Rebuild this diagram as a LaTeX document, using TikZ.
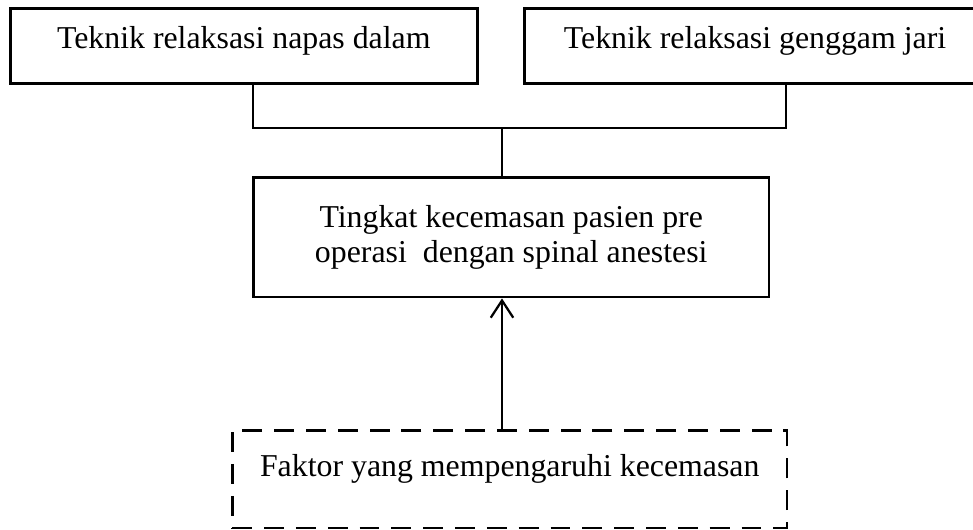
\documentclass[tikz,border=0pt]{standalone}
\usepackage{fontspec}
\setmainfont{Liberation Serif}
\usetikzlibrary{arrows.meta}
\tikzset{
	kotak/.style={draw, line width=0.95pt, inner xsep=0pt, inner ysep=0pt, anchor=north west, font=\fontsize{12}{13.2}\selectfont},
	putus/.style={kotak, dash pattern=on 7.5pt off 4.5pt},
	garis/.style={line width=0.85pt},
	panah/.style={garis, -{Straight Barb[length=6.5pt,width=8.5pt]}}
}
\begin{document}
\begin{tikzpicture}[x=0.377pt,y=-0.377pt] %Mulai diagram
					\useasboundingbox (0,0) rectangle (973,529); %Batas gambar
						%Kotak atas
					\node[kotak, minimum width=176.1pt, text height=15.1pt, text depth=13.2pt] (kiri) at (9,7) {Teknik relaksasi napas dalam}; %Kotak kiri
					\node[kotak, minimum width=174pt, text height=15.1pt, text depth=13.2pt] (kanan) at (523,7) {Teknik relaksasi genggam jari}; %Kotak kanan
						%Kotak tengah
					\node[kotak, minimum width=194.5pt, minimum height=45.2pt, align=center] (tengah) at (252,176) {Tingkat kecemasan pasien pre\\operasi~ dengan spinal anestesi};
						%Kotak bawah
					\node[putus, minimum width=209.2pt, text height=17.3pt, text depth=19.6pt] (faktor) at (231,429) {Faktor yang mempengaruhi kecemasan};
						%Garis penghubung
					\coordinate (cabang) at (502,128); %Titik cabang
					\draw[garis] (kiri.south -| 253,0) |- (cabang) -| (kanan.south -| 786,0); %Garis kiri ke kanan
					\draw[garis] (cabang) -- (tengah.north -| cabang); %Garis ke kotak tengah
					\draw[panah] (faktor.north -| cabang) -- (tengah.south -| cabang); %Panah dari faktor
				\end{tikzpicture}
\end{document}
